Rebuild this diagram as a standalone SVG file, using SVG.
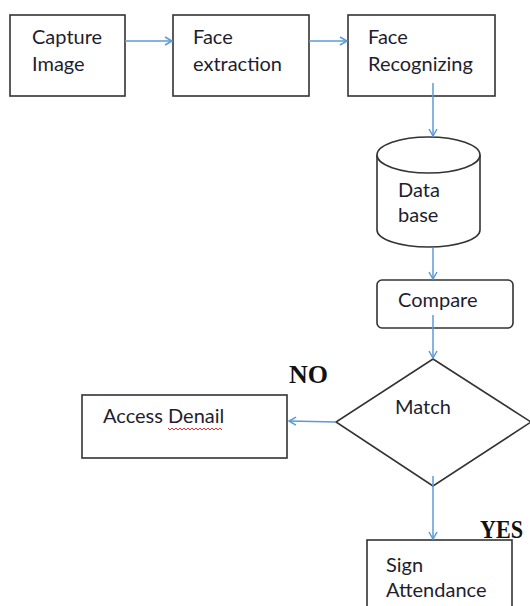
<svg xmlns="http://www.w3.org/2000/svg" width="530" height="606" viewBox="0 0 530 606">
<style>
.box{fill:#fff;stroke:#333;stroke-width:1.6}
.t{font-family:Lato,"Liberation Sans",sans-serif;font-size:20px;fill:#1e1e2e}
.b{font-family:"Liberation Serif",serif;font-weight:bold;font-size:26px;fill:#111}
.c{fill:none;stroke:#5b9bd5;stroke-width:1.5}
</style>
<defs>
<marker id="ah" markerWidth="10" markerHeight="10" refX="8" refY="5" orient="auto" markerUnits="userSpaceOnUse">
<path d="M1,1 L8,5 L1,9" fill="none" stroke="#5b9bd5" stroke-width="1.5"/>
</marker>
</defs>
<rect width="530" height="606" fill="#fff"/>
<g id="capture"><rect class="box" x="10" y="15" width="115" height="81"/><text class="t" x="32" y="44">Capture</text><text class="t" x="32" y="71">Image</text></g>
<g id="extraction"><rect class="box" x="173" y="15" width="136" height="81"/><text class="t" x="193" y="44">Face</text><text class="t" x="193" y="71">extraction</text></g>
<g id="recognizing"><rect class="box" x="348" y="15" width="147" height="81"/><text class="t" x="368" y="44">Face</text><text class="t" x="368" y="71">Recognizing</text></g>
<g id="database"><path class="box" d="M377,155 L377,230 A51.5,17 0 0 0 480,230 L480,155"/><ellipse class="box" cx="428.5" cy="155" rx="51.5" ry="18"/><text class="t" x="398" y="197">Data</text><text class="t" x="398" y="222">base</text></g>
<g id="compare"><rect class="box" x="377" y="280" width="136" height="48" rx="5"/><text class="t" x="398" y="307">Compare</text></g>
<g id="match"><polygon class="box" points="433,359 531,422 433,486 336,422"/><text class="t" x="395" y="414">Match</text></g>
<g id="denied"><rect class="box" x="82" y="395" width="205" height="63"/><text class="t" x="103" y="423">Access Denail</text><path d="M168,428 l2,2 l2,-2 l2,2 l2,-2 l2,2 l2,-2 l2,2 l2,-2 l2,2 l2,-2 l2,2 l2,-2 l2,2 l2,-2 l2,2 l2,-2 l2,2 l2,-2 l2,2 l2,-2 l2,2 l2,-2 l2,2 l2,-2 l2,2 l2,-2 l2,2" fill="none" stroke="#e02020" stroke-width="0.9"/></g>
<g id="sign"><rect class="box" x="367" y="540" width="145" height="70"/><text class="t" x="386" y="572">Sign</text><text class="t" x="386" y="597">Attendance</text></g>
<g id="labels"><text class="b" x="289" y="383">NO</text><text class="b" x="480" y="538" font-size="24" textLength="43" lengthAdjust="spacingAndGlyphs">YES</text></g>
<g id="connectors">
<line class="c" x1="125" y1="41" x2="172" y2="41" marker-end="url(#ah)"/>
<line class="c" x1="309" y1="41" x2="347" y2="41" marker-end="url(#ah)"/>
<line class="c" x1="433" y1="83" x2="433" y2="136" marker-end="url(#ah)"/>
<line class="c" x1="433" y1="248" x2="433" y2="279" marker-end="url(#ah)"/>
<line class="c" x1="433" y1="315" x2="433" y2="358" marker-end="url(#ah)"/>
<line class="c" x1="336" y1="422" x2="289" y2="421" marker-end="url(#ah)"/>
<line class="c" x1="433" y1="476" x2="433" y2="539" marker-end="url(#ah)"/>
</g>
</svg>
